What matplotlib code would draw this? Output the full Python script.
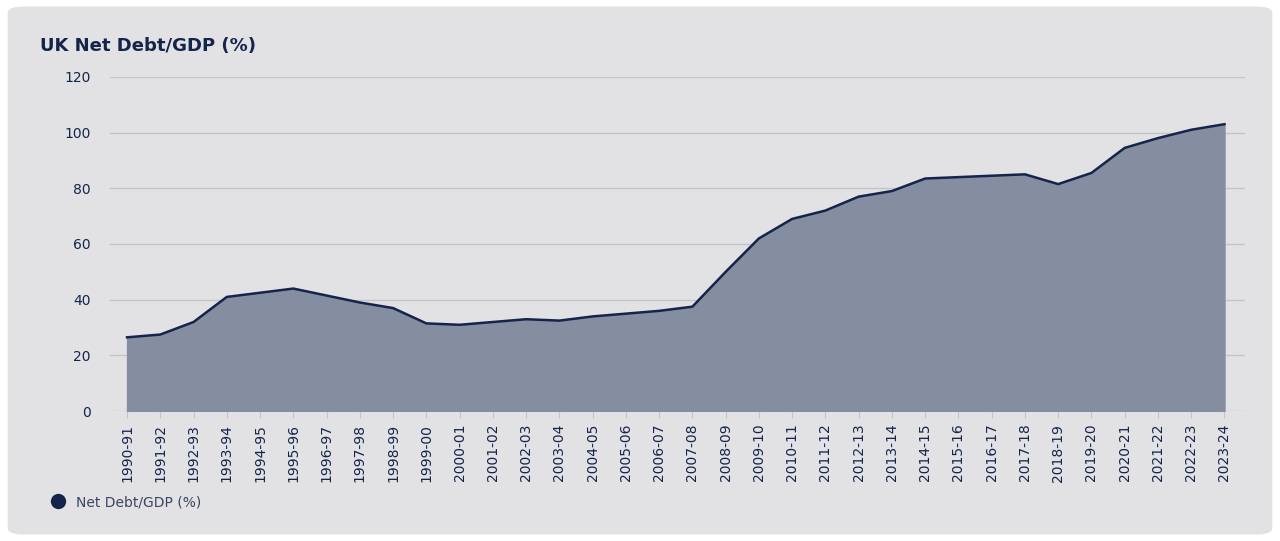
import matplotlib
matplotlib.use("Agg")
import matplotlib.pyplot as plt
from matplotlib.patches import FancyBboxPatch
from matplotlib.lines import Line2D

years = ["1990-91","1991-92","1992-93","1993-94","1994-95","1995-96","1996-97","1997-98","1998-99","1999-00",
         "2000-01","2001-02","2002-03","2003-04","2004-05","2005-06","2006-07","2007-08","2008-09","2009-10",
         "2010-11","2011-12","2012-13","2013-14","2014-15","2015-16","2016-17","2017-18","2018-19","2019-20",
         "2020-21","2021-22","2022-23","2023-24"]
values = [26.5,27.5,32,41,42.5,44,41.5,39,37,31.5,31,32,33,32.5,34,35,36,37.5,50,62,
          69,72,77,79,83.5,84,84.5,85,81.5,85.5,94.5,98,101,103]
yticks = [0,20,40,60,80,100,120]

navy = "#14244a"
fig = plt.figure(figsize=(12.8,5.41), dpi=100)
fig.patch.set_facecolor("white")
bg = FancyBboxPatch((0.006,0.012),0.988,0.976, boxstyle="round,pad=0,rounding_size=0.012",
                    transform=fig.transFigure, facecolor="#e2e2e5", edgecolor="none", zorder=-10)
fig.add_artist(bg)

ax = fig.add_axes([0.086,0.240,0.887,0.618])
ax.set_zorder(5)
ax.set_facecolor("none")
x = list(range(len(years)))
ax.fill_between(x, values, 0, color="#848ea0", zorder=2)
ax.plot(x, values, color=navy, lw=1.8, zorder=3)
ax.set_xlim(-0.51, 33.63)
ax.set_ylim(0,120)
ax.set_yticks(yticks)
ax.set_xticks(x)
ax.set_xticklabels(years, rotation=90, fontsize=10, color=navy)
ax.tick_params(axis="y", length=0, labelsize=10, labelcolor=navy, pad=14)
ax.tick_params(axis="x", length=5, color="#c4c4c8", pad=4)
ax.grid(axis="y", color="#c4c4c8", lw=1, zorder=0)
for s in ax.spines.values():
    s.set_visible(False)

fig.text(0.031,0.905,"UK Net Debt/GDP (%)", fontsize=13, fontweight="bold", color=navy)
fig.legend(handles=[Line2D([],[],marker="o",ls="none",color=navy,markersize=10)],
           labels=["Net Debt/GDP (%)"], loc="center left", bbox_to_anchor=(0.025,0.072),
           frameon=False, fontsize=10, handletextpad=0.3, labelcolor="#3a4560")
fig.savefig("out.png", dpi=100)
